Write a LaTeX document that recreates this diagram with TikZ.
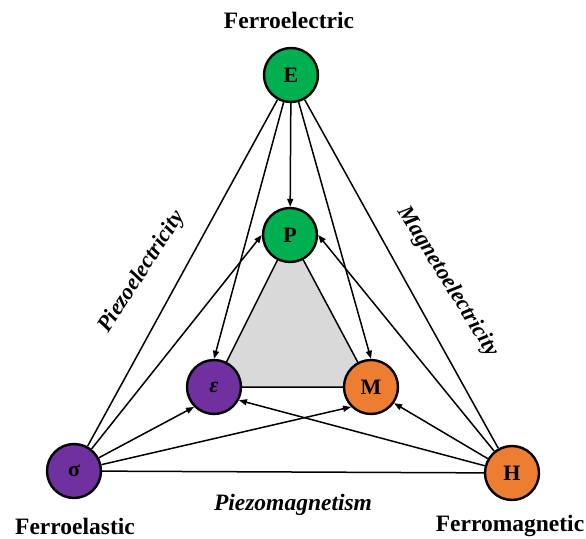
\documentclass[tikz,border=0pt]{standalone}
\usepackage{fontspec}
\setmainfont{Liberation Serif}
\usetikzlibrary{arrows.meta}
\definecolor{cgreen}{HTML}{00B050}
\definecolor{cpurple}{HTML}{7030A0}
\definecolor{corange}{HTML}{ED7D31}
\definecolor{cgray}{HTML}{D9D9D9}
\begin{document}
\begin{tikzpicture}[x=1pt,y=-1pt,
  ball/.style={circle,draw=black,line width=2.4pt,minimum size=54pt,inner sep=0pt,font=\fontsize{22}{24}\selectfont\bfseries},
  lbl/.style={inner sep=0pt,font=\fontsize{23.5}{25}\selectfont\bfseries},
  ilbl/.style={inner sep=0pt,font=\fontsize{23.5}{25}\selectfont\bfseries\itshape},
  rlbl/.style={inner sep=0pt,font=\fontsize{22.5}{24}\selectfont\bfseries\itshape},
  conn/.style={line width=1.5pt},
  arr/.style={line width=1.5pt,-{Triangle[length=8pt,width=6pt]}}]
\useasboundingbox (0,0) rectangle (586,538);
\coordinate (cP) at (290,235);
\coordinate (cEps) at (214,387);
\coordinate (cM) at (371,387);
\filldraw[fill=cgray,draw=black,line width=1.5pt] (cP) -- (cEps) -- (cM) -- cycle;
\node[ball,fill=cgreen] (E) at (291,75) {E};
\node[ball,fill=cgreen] (P) at (cP) {P};
\node[ball,fill=cpurple] (eps) at (cEps) {\textit{ε}};
\node[ball,fill=corange] (M) at (cM) {M};
\node[ball,fill=cpurple] (sig) at (74,471) {σ};
\node[ball,fill=corange] (H) at (512,473) {H};
% outer triangle
\draw[conn] (E) -- (sig);
\draw[conn] (E) -- (H);
\draw[conn] (sig) -- (H);
% arrows from E
\draw[arr] (E) -- (P);
\draw[arr] (E) -- (eps.north);
\draw[arr] (E) -- (M.north);
% arrows from sigma
\draw[arr] (sig) -- (P.west);
\draw[arr] (sig) -- (eps.south west);
\draw[arr] (sig) -- (M.south west);
% arrows from H
\draw[arr] (H) -- (P.east);
\draw[arr] (H) -- (eps.-28);
\draw[arr] (H) -- (M.-35);
% labels
\node[lbl] (tE) at (289,20) {Ferroelectric};
\node[lbl] (tS) at (75,526) {Ferroelastic};
\node[lbl] (tH) at (510,526) {Ferromagnetic};
\node[ilbl] (tPm) at (293,505) {Piezomagnetism};
\node[rlbl,rotate=57] (tPe) at (142,272) {Piezoelectricity};
\node[rlbl,rotate=-58] (tMe) at (448,282) {Magnetoelectricity};
\end{tikzpicture}
\end{document}
